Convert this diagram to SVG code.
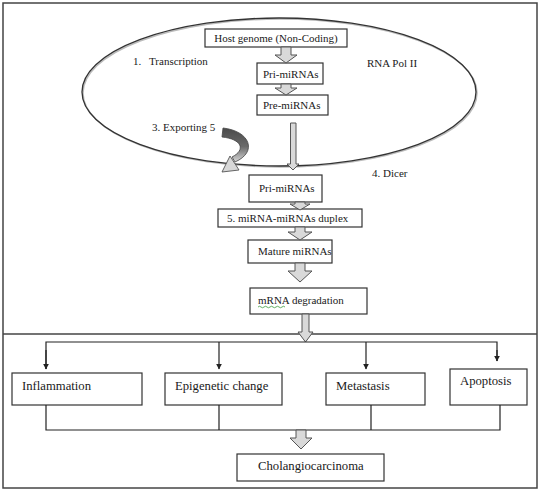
<svg xmlns="http://www.w3.org/2000/svg" width="544" height="493" viewBox="0 0 544 493" font-family="'Liberation Serif', 'DejaVu Serif', serif">
<style>
text{fill:#1a1a1a}
.t11{font-size:11px}
.t13{font-size:12.7px}
.box{fill:#fff;stroke:#333;stroke-width:1.2}
.blk{fill:#d9d9d9;stroke:#555;stroke-width:1}
.ln{fill:none;stroke:#222;stroke-width:1.2}
</style>
<defs>
<marker id="ah" viewBox="0 0 10 10" refX="9" refY="5" markerWidth="6" markerHeight="6" markerUnits="userSpaceOnUse" orient="auto">
<path d="M0,0 L10,5 L0,10 z" fill="#222"/>
</marker>
<linearGradient id="cg" x1="0" y1="0" x2="0" y2="1">
<stop offset="0" stop-color="#4a4a4a"/>
<stop offset="0.55" stop-color="#6a6a6a"/>
<stop offset="1" stop-color="#d8d8d8"/>
</linearGradient>
</defs>
<rect x="3" y="3" width="534" height="485" fill="#fff" stroke="#444" stroke-width="1.5"/>
<line x1="3" y1="334" x2="537" y2="334" stroke="#444" stroke-width="1.5"/>

<g id="nucleus">
<ellipse cx="280" cy="93" rx="197" ry="74" fill="none" stroke="#bbb" stroke-width="1.5"/>
<ellipse cx="279" cy="92" rx="197" ry="74" fill="none" stroke="#333" stroke-width="1.3"/>
</g>

<g id="labels">
<text class="t11" x="133" y="65">1.</text>
<text class="t11" x="149" y="65">Transcription</text>
<text class="t11" x="367" y="67">RNA Pol II</text>
<text class="t11" x="152" y="131">3. Exporting 5</text>
<text class="t11" x="372" y="177">4. Dicer</text>
</g>

<g id="host"><rect class="box" x="205" y="29" width="142" height="18"/><text class="t11" x="276" y="42" text-anchor="middle">Host genome (Non-Coding)</text></g>
<g id="pri1"><rect class="box" x="257" y="63" width="66" height="21"/><text class="t11" x="263" y="78">Pri-miRNAs</text></g>
<g id="pre"><rect class="box" x="257" y="95" width="71" height="20"/><text class="t11" x="263" y="109">Pre-miRNAs</text></g>
<g id="pri2"><rect class="box" x="249" y="175" width="73" height="27"/><text class="t11" x="259" y="192">Pri-miRNAs</text></g>
<g id="duplex"><rect class="box" x="218" y="209" width="144" height="18"/><text class="t11" x="227" y="222">5. miRNA-miRNAs duplex</text></g>
<g id="mature"><rect class="box" x="248" y="240" width="84" height="23"/><text class="t11" x="258" y="255">Mature miRNAs</text></g>
<g id="mrna"><rect class="box" x="250" y="288" width="117" height="26"/><text class="t11" x="258" y="304">mRNA degradation</text>
<path d="M258,307 q1.5,-1.5 3,0 t3,0 t3,0 t3,0 t3,0 t3,0 t3,0 t3,0 t3,0" fill="none" stroke="#3a9a3a" stroke-width="0.8"/></g>

<g id="inflammation"><rect class="box" x="12" y="373" width="130" height="32"/><text class="t13" x="22" y="390">Inflammation</text></g>
<g id="epigenetic"><rect class="box" x="165" y="373" width="117" height="32"/><text class="t13" x="175" y="390">Epigenetic change</text></g>
<g id="metastasis"><rect class="box" x="326" y="373" width="99" height="32"/><text class="t13" x="336" y="390">Metastasis</text></g>
<g id="apoptosis"><rect class="box" x="450" y="369" width="77" height="36"/><text class="t13" x="460" y="385">Apoptosis</text></g>
<g id="cholangio"><rect class="box" x="237" y="454" width="147" height="27"/><text class="t13" x="258" y="470">Cholangiocarcinoma</text></g>

<g id="connectors">
<path class="blk" d="M281,47 h10 v8 h6 l-11,8 l-11,-8 h6 z"/>
<path class="blk" d="M281,84 h10 v4 h6 l-11,7 l-11,-7 h6 z"/>
<path class="blk" d="M290.5,123 h5.5 v41 h3 l-6,6 l-6,-6 h3.5 z"/>
<path d="M223,128 C250,131 258,152 235,162 L232,157 C246,150 242,139 222,137 z" fill="url(#cg)" stroke="#444" stroke-width="0.8"/>
<path d="M230,156 L239,170 L222,172 z" fill="#d8d8d8" stroke="#555" stroke-width="0.9"/>
<path class="blk" d="M295,202 h10 v2 h5 l-10,6 l-10,-6 h5 z"/>
<path class="blk" d="M295,227 h10 v5 h7 l-12,8 l-12,-8 h7 z"/>
<path class="blk" d="M295,263 h10 v8 h7 l-12,11 l-12,-11 h7 z"/>
<path class="blk" d="M302,314 h7 v18 h4 l-7.5,10 l-7.5,-10 h4 z"/>
<path class="ln" d="M46,369 V342 H497 V361"/>
<line class="ln" x1="219" y1="342" x2="219" y2="369" marker-end="url(#ah)"/>
<line class="ln" x1="366" y1="342" x2="366" y2="369" marker-end="url(#ah)"/>
<line class="ln" x1="46" y1="350" x2="46" y2="369" marker-end="url(#ah)"/>
<line class="ln" x1="497" y1="350" x2="497" y2="361" marker-end="url(#ah)"/>
<path class="ln" d="M46,405 V430 H500 V405 M219,405 V430 M371,405 V430"/>
<path class="blk" d="M296,430 h10 v8 h6 l-11,11 l-11,-11 h6 z"/>
</g>
</svg>
